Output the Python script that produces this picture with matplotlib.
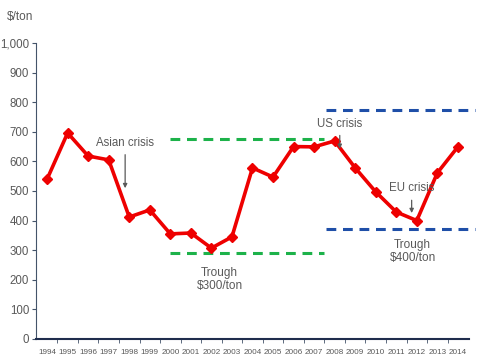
import matplotlib.pyplot as plt

plt.rcParams['font.family'] = ['Liberation Sans', 'DejaVu Sans']

years = list(range(1994, 2015))
prices = [540, 696, 618, 605, 412, 436, 355, 358, 307, 345, 578, 547,
          650, 649, 669, 578, 497, 429, 400, 561, 649]

green_band = [676, 290]
green_span = [2000, 2007.5]
blue_band = [774, 372]
blue_span = [2007.6, 2014.85]

grey = '#595959'

fig = plt.figure(figsize=(4.8, 3.61), dpi=100)
ax = fig.add_axes([0.075, 0.061, 0.902, 0.820])

for y in green_band:
    ax.plot(green_span, [y, y], color='#1db24a', lw=2.2, dashes=(3.2, 2.2), zorder=2)
for y in blue_band:
    ax.plot(blue_span, [y, y], color='#1f4fa8', lw=2.2, dashes=(3.2, 2.2), zorder=2, clip_on=False)

ax.plot(years, prices, color='#ee0000', lw=2.6, marker='D', ms=5,
        solid_joinstyle='round', zorder=3)

ax.set_xlim(1993.46, 2014.54)
ax.set_ylim(0, 1000)
ax.set_xticks(years)
ax.set_xticklabels([str(y) for y in years], fontsize=5.9, color=grey)
ax.set_xticks([y + 0.5 for y in years[:-1]], minor=True)
ax.set_yticks(range(0, 1001, 100))
ax.set_yticklabels([f'{v:,}' for v in range(0, 1001, 100)], fontsize=8.3, color=grey)
ax.tick_params(axis='y', length=3, color='#44546a', pad=2)
ax.tick_params(axis='x', which='major', length=0, pad=7)
ax.tick_params(axis='x', which='minor', length=3, color='#44546a')

for s in ['top', 'right']:
    ax.spines[s].set_visible(False)
ax.spines['left'].set_color('#44546a')
ax.spines['bottom'].set_color('#1f2d4d')
ax.spines['bottom'].set_linewidth(1.5)

fig.text(0.042, 0.953, '$/ton', fontsize=8.5, color=grey, ha='center', va='center')

def crisis(label, x, ytext, ytop, ybot):
    ax.text(x, ytext, label, fontsize=8.3, color=grey, ha='center', va='center')
    ax.annotate('', xy=(x, ybot), xytext=(x, ytop),
                arrowprops=dict(arrowstyle='-|>', color=grey, lw=0.9, mutation_scale=6))

crisis('Asian crisis', 1997.8, 663, 632, 500)
crisis('US crisis', 2008.25, 727, 697, 633)
crisis('EU crisis', 2011.75, 510, 478, 416)

ax.text(2002.4, 200, 'Trough\n$300/ton', fontsize=8.5, color=grey, ha='center', va='center',
        linespacing=1.15)
ax.text(2011.8, 296, 'Trough\n$400/ton', fontsize=8.5, color=grey, ha='center', va='center',
        linespacing=1.15)

fig.savefig('out.png', dpi=100)
